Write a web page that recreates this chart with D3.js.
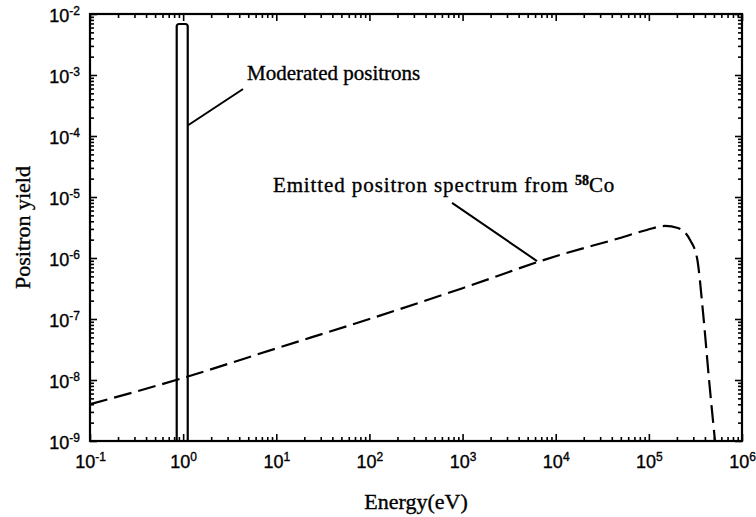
<!DOCTYPE html>
<html>
<head>
<meta charset="utf-8">
<script src="https://cdn.jsdelivr.net/npm/d3@7"></script>
<style>
body{margin:0;background:#fff;}
svg{display:block;font-family:"Liberation Serif","DejaVu Serif",serif;}
svg text{stroke:#000;stroke-width:0.35px;fill:#000;}
.axis path{display:none;}
.axis line{stroke:#000;stroke-width:1.6px;}
.axis text{font-size:18px;}
</style>
</head>
<body>
<svg></svg>
<script>
var width = 756;
var height = 517;
var margin = {left:90, right:14, top:14, bottom:76};

//emitted positron spectrum from 58Co
var spectrumEnergy = [0.1, 1, 10, 100, 1000, 1e4, 4.9e4, 9.5e4, 1.49e5, 2.05e5, 2.77e5, 3.29e5, 3.82e5, 4.43e5, 5.13e5];
var spectrumYield  = [4.0e-9, 1.08e-8, 3.3e-8, 1.0e-7, 3.2e-7, 1.07e-6, 2.13e-6, 2.88e-6, 3.35e-6, 3.1e-6, 1.97e-6, 1.0e-6, 1.26e-7, 1.0e-8, 1.0e-9];
//moderated positrons box
var moderatedLow = [0.853];
var moderatedHigh = [1.12];
var moderatedPeak = [6.86e-3];
//tick exponents
var xExponents = [-1, 0, 1, 2, 3, 4, 5, 6];
var yExponents = [-9, -8, -7, -6, -5, -4, -3, -2];

var svg = d3.select("svg")
    .attr("width",width)
    .attr("height",height);

//log scales
var xScale = d3.scaleLog()
                .domain([1e-1,1e6])
                .range([margin.left,width-margin.right]);
var yScale = d3.scaleLog()
                .domain([1e-9,1e-2])
                .range([height-margin.bottom,margin.top]);

var xMajor = xExponents.map(e => Math.pow(10,e));
var yMajor = yExponents.map(e => Math.pow(10,e));
//minor ticks 2..9 in every decade
var minor = function(exps){
    var out = [];
    exps.slice(0,-1).forEach(e => {
        for (var k=2;k<10;k++) out.push(k*Math.pow(10,e));
    });
    return out;
};
var xMinor = minor(xExponents);
var yMinor = minor(yExponents);

var plotBottom = height-margin.bottom;
var plotRight = width-margin.right;

//axes with inward ticks on all four sides
var bottomAxis = svg.append("g").attr("class","axis")
    .attr("transform","translate(0,"+plotBottom+")")
    .call(d3.axisBottom(xScale).tickValues(xMajor).tickSize(-7).tickPadding(14).tickFormat(""));
svg.append("g").attr("class","axis")
    .attr("transform","translate(0,"+plotBottom+")")
    .call(d3.axisBottom(xScale).tickValues(xMinor).tickSize(-4).tickFormat(""));
svg.append("g").attr("class","axis")
    .attr("transform","translate(0,"+margin.top+")")
    .call(d3.axisTop(xScale).tickValues(xMajor).tickSize(-7).tickFormat(""));
svg.append("g").attr("class","axis")
    .attr("transform","translate(0,"+margin.top+")")
    .call(d3.axisTop(xScale).tickValues(xMinor).tickSize(-4).tickFormat(""));
var leftAxis = svg.append("g").attr("class","axis")
    .attr("transform","translate("+margin.left+",0)")
    .call(d3.axisLeft(yScale).tickValues(yMajor).tickSize(-7).tickPadding(10).tickFormat(""));
svg.append("g").attr("class","axis")
    .attr("transform","translate("+margin.left+",0)")
    .call(d3.axisLeft(yScale).tickValues(yMinor).tickSize(-4).tickFormat(""));
svg.append("g").attr("class","axis")
    .attr("transform","translate("+plotRight+",0)")
    .call(d3.axisRight(yScale).tickValues(yMajor).tickSize(-7).tickFormat(""));
svg.append("g").attr("class","axis")
    .attr("transform","translate("+plotRight+",0)")
    .call(d3.axisRight(yScale).tickValues(yMinor).tickSize(-4).tickFormat(""));

//power-of-ten labels with superscript
var powerLabel = function(sel){
    sel.each(function(d){
        var t = d3.select(this).text(null);
        t.append("tspan").text("10");
        t.append("tspan")
            .attr("dy","-0.55em")
            .style("font-size","12px")
            .text(Math.round(Math.log10(d)));
    });
};
bottomAxis.selectAll(".tick text")
    .attr("dy","0.71em")
    .call(powerLabel);
leftAxis.selectAll(".tick text")
    .attr("dy","0.4em")
    .call(powerLabel);

//frame
svg.append("rect")
    .attr("x",margin.left)
    .attr("y",margin.top)
    .attr("width",plotRight-margin.left)
    .attr("height",plotBottom-margin.top)
    .attr("fill","none")
    .attr("stroke","#000")
    .attr("stroke-width",2.2);

//moderated positrons box with rounded top
moderatedLow.forEach((lo,i) => {
    var x0 = xScale(lo), x1 = xScale(moderatedHigh[i]);
    var y0 = yScale(moderatedPeak[i]), r = 2.5;
    svg.append("path")
        .attr("d","M"+x0+","+plotBottom+"V"+(y0+r)+"Q"+x0+","+y0+" "+(x0+r)+","+y0
            +"H"+(x1-r)+"Q"+x1+","+y0+" "+x1+","+(y0+r)+"V"+plotBottom)
        .attr("fill","none")
        .attr("stroke","#000")
        .attr("stroke-width",2.2);
});

//dashed spectrum
var spectrum = spectrumEnergy.map((e,i) => ({e:e, y:spectrumYield[i]}));
var line = d3.line()
    .x(d => xScale(d.e))
    .y(d => yScale(d.y))
    .curve(d3.curveMonotoneX);
svg.append("path")
    .datum(spectrum)
    .attr("d",line)
    .attr("fill","none")
    .attr("stroke","#000")
    .attr("stroke-width",2.2)
    .attr("stroke-dasharray","18,7");

//annotations (anchored in data units)
var leaders = [
    [[4.4,5.9e-4],[1.13,1.5e-4]],
    [[771,8.0e-6],[6300,8.9e-7]]
];
leaders.forEach(l => {
    svg.append("line")
        .attr("x1",xScale(l[0][0])).attr("y1",yScale(l[0][1]))
        .attr("x2",xScale(l[1][0])).attr("y2",yScale(l[1][1]))
        .attr("stroke","#000")
        .attr("stroke-width",2);
});
svg.append("text")
    .attr("x",xScale(4.85))
    .attr("y",yScale(8.3e-4))
    .style("font-size","21px")
    .text("Moderated positrons");
var emitted = svg.append("text")
    .attr("x",xScale(9.2))
    .attr("y",yScale(1.21e-5))
    .style("font-size","21px")
    .style("letter-spacing","0.9px")
    .text("Emitted positron spectrum from ");
emitted.append("tspan")
    .attr("dy","-0.5em")
    .style("font-size","14px")
    .style("font-weight","bold")
    .style("letter-spacing","0px")
    .text("58");
emitted.append("tspan")
    .attr("dy","0.32em")
    .text("Co");

//axis titles
svg.append("text")
    .attr("x",(margin.left+plotRight)/2)
    .attr("y",height-8)
    .style("text-anchor","middle")
    .style("font-size","22px")
    .text("Energy(eV)");
svg.append("text")
    .attr("x",-(margin.top+plotBottom)/2)
    .attr("y",30)
    .attr("transform","rotate(-90)")
    .style("text-anchor","middle")
    .style("font-size","22px")
    .text("Positron yield");
</script>
</body>
</html>
